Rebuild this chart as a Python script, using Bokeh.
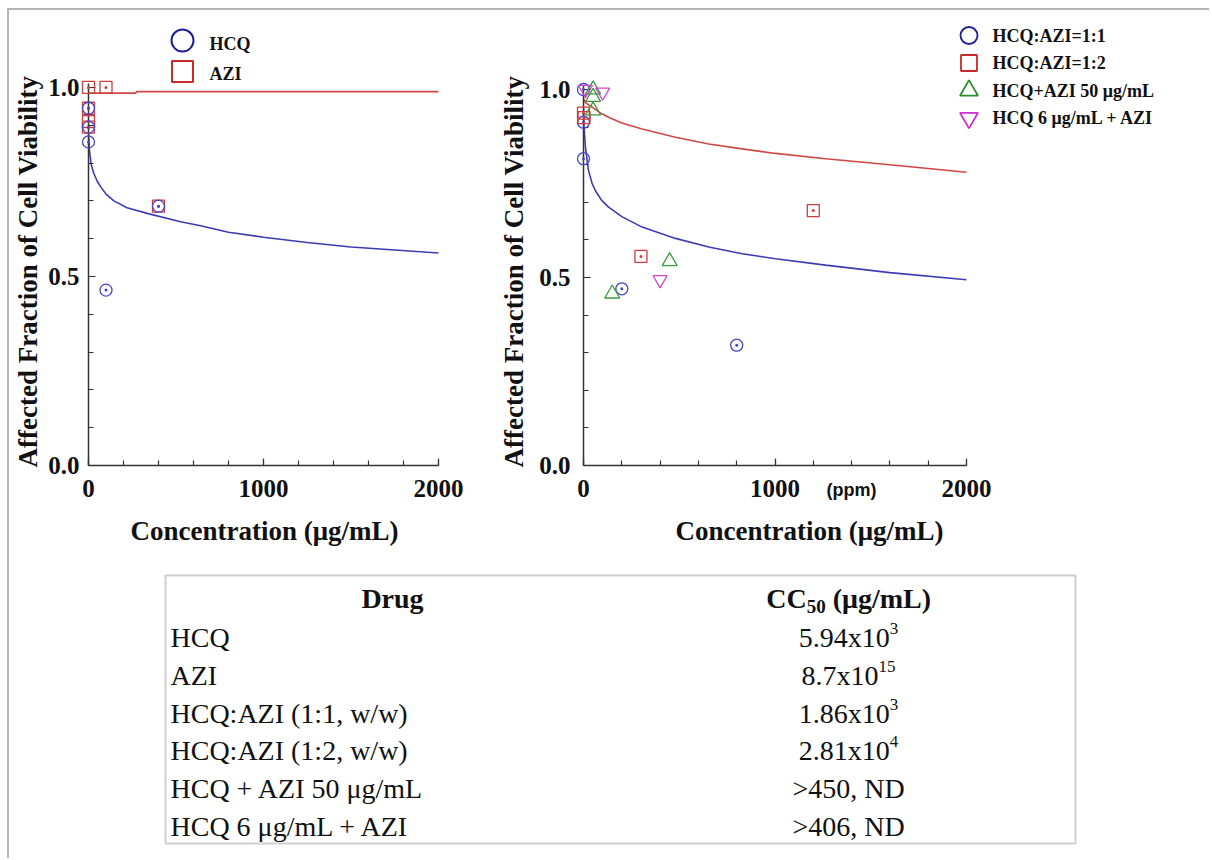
from bokeh.plotting import figure
from bokeh.models import Range1d, FixedTicker, NumeralTickFormatter
from bokeh.layouts import row, column
from bokeh.embed import file_html
from bokeh.resources import INLINE
from bokeh.core.properties import value

SERIF = "Liberation Serif"
SANS = "Liberation Sans"
NAN = float("nan")

# ---------------- data: left panel (single drugs) ----------------
hcq_conc = [0, 0, 0, 100, 400]
hcq_fa = [0.945, 0.895, 0.856, 0.464, 0.686]
azi_conc = [0, 0, 0, 0, 100, 400]
azi_fa = [1.0, 0.945, 0.91, 0.895, 1.0, 0.686]
hcq_fit_conc = [0, 2, 5, 15, 30, 50, 70, 100, 145, 220, 335, 526, 640, 800, 1000, 1250, 1500, 1750, 2000]
hcq_fit_fa = [0.88, 0.86, 0.835, 0.797, 0.773, 0.752, 0.737, 0.718, 0.70, 0.682, 0.667, 0.645, 0.634,
              0.617, 0.604, 0.590, 0.578, 0.570, 0.562]
azi_fit_conc = [0, 270, 275, 2000]
azi_fit_fa = [0.985, 0.985, 0.989, 0.989]
left_legend = ["HCQ", "AZI"]

# ---------------- data: right panel (combinations) ----------------
r11_conc = [0, 0, 0, 200, 800]
r11_fa = [1.0, 0.913, 0.816, 0.47, 0.32]
r12_conc = [0, 3, 300, 1200]
r12_fa = [0.937, 0.925, 0.556, 0.678]
azi50_conc = [50, 50, 50, 150, 450]
azi50_fa = [1.0, 0.98, 0.944, 0.457, 0.543]
hcq6_conc = [10, 100, 400]
hcq6_fa = [1.0, 0.993, 0.494]
r11_fit_conc = [0, 2, 10, 26, 45, 63, 95, 131, 200, 306, 480, 654, 829, 1003, 1264, 1600, 2000]
r11_fit_fa = [0.95, 0.905, 0.847, 0.785, 0.75, 0.73, 0.705, 0.687, 0.662, 0.634, 0.604, 0.581,
              0.563, 0.55, 0.533, 0.513, 0.494]
r12_fit_conc = [0, 10, 45, 90, 131, 200, 306, 480, 654, 829, 1003, 1264, 1600, 2000]
r12_fit_fa = [0.975, 0.965, 0.953, 0.937, 0.926, 0.911, 0.895, 0.873, 0.855, 0.842, 0.83, 0.816,
              0.80, 0.78]
right_legend = ["HCQ:AZI=1:1", "HCQ:AZI=1:2", "HCQ+AZI 50 μg/mL", "HCQ 6 μg/mL + AZI"]

# ---------------- axis ticks and titles ----------------
x_major = [0, 1000, 2000]
x_minor = [0, 200, 400, 600, 800, 1000, 1200, 1400, 1600, 1800, 2000]
y_major = [0.0, 0.5, 1.0]
y_minor = [0.0, 0.1, 0.2, 0.3, 0.4, 0.5, 0.6, 0.7, 0.8, 0.9, 1.0]
x_title = "Concentration (μg/mL)"
y_title = "Affected Fraction of Cell Viability"
unit_note = "(ppm)"

# ---------------- table ----------------
table_header = ["Drug", "CC", "50", "(μg/mL)"]
drugs = ["HCQ", "AZI", "HCQ:AZI (1:1, w/w)", "HCQ:AZI (1:2, w/w)", "HCQ + AZI 50 μg/mL", "HCQ 6 μg/mL  + AZI"]
cc50_base = ["5.94x10", "8.7x10", "1.86x10", "2.81x10", ">450, ND", ">406, ND"]
cc50_exp = ["3", "15", "3", "4", "", ""]

BLUE_L, RED_L = "#3c3cb4", "#d24646"
BLUE_M, RED_M, GREEN_M, MAG_M = "#4646c8", "#d03c3c", "#3c9a3c", "#d244d2"
BLUE_K, RED_K, GREEN_K, MAG_K = "#1e1e9a", "#c82a2a", "#2e8c2e", "#d02ed0"
AX = "#333333"
TXT = "#111111"

ROW_H = 560
TOP = 67


def make_panel(width, left, right, frame_h, xs, ys, y_lab_standoff, y_axlab_standoff, xlabel):
    frame_w = width - left - right
    p = figure(width=width, height=ROW_H, x_range=Range1d(0, frame_w / xs),
               y_range=Range1d(0, frame_h / ys),
               output_backend="svg", toolbar_location=None, title=None,
               min_border_left=left, min_border_right=right, min_border_top=TOP,
               min_border_bottom=ROW_H - TOP - frame_h)
    p.grid.visible = False
    p.outline_line_color = None
    p.background_fill_color = None
    p.border_fill_color = None
    xa, ya = p.xaxis[0], p.yaxis[0]
    xa.ticker = FixedTicker(ticks=x_major, minor_ticks=x_minor)
    ya.ticker = FixedTicker(ticks=y_major, minor_ticks=y_minor)
    xa.formatter = NumeralTickFormatter(format="0")
    ya.formatter = NumeralTickFormatter(format="0.0")
    xa.bounds = (0, 2000)
    ya.bounds = (0, 1.01)
    for ax in (xa, ya):
        ax.axis_line_color = AX
        ax.axis_line_width = 1.5
        ax.major_tick_in = 7
        ax.major_tick_out = 0
        ax.minor_tick_in = 5
        ax.minor_tick_out = 0
        ax.major_tick_line_color = AX
        ax.minor_tick_line_color = AX
        ax.major_tick_line_width = 1.2
        ax.minor_tick_line_width = 1.2
        ax.major_label_text_font = SERIF
        ax.major_label_text_font_style = "bold"
        ax.major_label_text_font_size = "25px"
        ax.major_label_text_color = TXT
        ax.axis_label_text_font = SERIF
        ax.axis_label_text_font_style = "bold"
        ax.axis_label_text_font_size = "27px"
        ax.axis_label_text_color = TXT
    xa.major_label_standoff = 14
    xa.axis_label_standoff = 16
    ya.major_label_standoff = y_lab_standoff
    ya.axis_label_standoff = y_axlab_standoff
    xa.axis_label = xlabel
    ya.axis_label = y_title
    return p


# ---------------- left figure ----------------
# x=0 at canvas 79 (0.175 px per unit); y=0 at canvas 456 (379 px per unit)
P1_XS, P1_YS = 0.175, 379.0
p1 = make_panel(486, 79, 55, 389, P1_XS, P1_YS, 9, 2, x_title)
p1.line(hcq_fit_conc, hcq_fit_fa, line_color=BLUE_L, line_width=1.6)
p1.line(azi_fit_conc, azi_fit_fa, line_color=RED_L, line_width=1.6)
p1.scatter(azi_conc, azi_fa, marker="square_dot", size=12, line_color=RED_M, fill_color=None,
           line_width=1.3, level="overlay")
p1.scatter(hcq_conc, hcq_fa, marker="circle_dot", size=12, line_color=BLUE_M, fill_color=None,
           line_width=1.3, level="overlay")

# legend keys drawn above the frame (pixel offsets from the axes origin -> data units);
# the trailing NaN entry only widens the renderer's visibility margin
l1_mx = 94 / P1_XS
l1_tx = 121 / P1_XS
l1_my = [426 / P1_YS, 395 / P1_YS]
l1_ty = [423 / P1_YS, 393 / P1_YS]
p1.scatter(x=[l1_mx, l1_mx, NAN], y=l1_my + [NAN], marker=["circle", "square", "circle"],
           size=[22, 21, 200], line_color=[BLUE_K, RED_K, BLUE_K], fill_color=None,
           line_width=2, level="overlay")
p1.text(x=[l1_tx] * 2, y=l1_ty, text=left_legend, text_align="left", text_baseline="middle",
        text_font=value(SERIF), text_font_style="bold", text_font_size="18px", text_color=TXT,
        level="overlay")

# ---------------- right figure ----------------
# x=0 at canvas 88 (0.1915 px per unit); y=0 at canvas 455 (376 px per unit)
P2_XS, P2_YS = 383 / 2000, 376.0
p2 = make_panel(714, 88, 241, 388, P2_XS, P2_YS, 13, 7, "")
p2.line(r11_fit_conc, r11_fit_fa, line_color=BLUE_L, line_width=1.6)
p2.line(r12_fit_conc, r12_fit_fa, line_color=RED_L, line_width=1.6)
p2.scatter(r11_conc, r11_fa, marker="circle_dot", size=12, line_color=BLUE_M, fill_color=None,
           line_width=1.3, level="overlay")
p2.scatter(r12_conc, r12_fa, marker="square_dot", size=12, line_color=RED_M, fill_color=None,
           line_width=1.3, level="overlay")
p2.scatter(azi50_conc, azi50_fa, marker="triangle", size=15, line_color=GREEN_M, fill_color=None,
           line_width=1.3, level="overlay")
p2.scatter(hcq6_conc, hcq6_fa, marker="inverted_triangle", size=14, line_color=MAG_M, fill_color=None,
           line_width=1.3, level="overlay")

l2_mx = 385.5 / P2_XS
l2_tx = 409 / P2_XS
l2_y = [(430 - 27.5 * i) / P2_YS for i in range(4)]
p2.scatter(x=[l2_mx] * 4 + [NAN], y=l2_y + [NAN],
           marker=["circle", "square", "triangle", "inverted_triangle", "circle"],
           size=[17, 16, 18, 18, 200], line_color=[BLUE_K, RED_K, GREEN_K, MAG_K, BLUE_K],
           fill_color=None, line_width=1.8, level="overlay")
p2.text(x=[l2_tx] * 4, y=l2_y, text=right_legend, text_align="left", text_baseline="middle",
        text_font=value(SERIF), text_font_style="bold", text_font_size="18px", text_color=TXT,
        level="overlay")

# x title and unit note below the right axis (text glyphs are not clipped at overlay level)
p2.text(x=[226 / P2_XS], y=[-65 / P2_YS], text=[x_title], text_align="center",
        text_baseline="middle", text_font=value(SERIF), text_font_style="bold",
        text_font_size="27px", text_color=TXT, level="overlay")
p2.text(x=[268 / P2_XS], y=[-24 / P2_YS], text=[unit_note], text_align="center",
        text_baseline="middle", text_font=value(SANS), text_font_style="bold",
        text_font_size="18px", text_color=TXT, level="overlay")

# ---------------- table figure ----------------
TW, TH = 1200, 288
p3 = figure(width=TW, height=TH, x_range=Range1d(0, TW), y_range=Range1d(TH, 0),
            output_backend="svg", toolbar_location=None, title=None,
            x_axis_type=None, y_axis_type=None, min_border=0)
p3.grid.visible = False
p3.outline_line_color = None
p3.background_fill_color = None
p3.border_fill_color = None

p3.quad(left=[156], right=[1066], top=[5], bottom=[273], fill_color=None,
        line_color="#cfcfcf", line_width=2)

FS = 28
EXP_FS = 17
SUB_FS = 19
W_REG = {"0": .5, "1": .5, "2": .5, "3": .5, "4": .5, "5": .5, "6": .5, "7": .5, "8": .5, "9": .5,
         ".": .25, "x": .5, ",": .25, " ": .25, ">": .564, "N": .722, "D": .722}
W_BOLD = {"C": .722, " ": .25, "(": .333, ")": .333, "μ": .556, "g": .5, "/": .278, "m": .833,
          "L": .667, "5": .5, "0": .5}


def tw(s, table, size):
    return sum(table.get(c, .5) for c in s) * size


header_y = 28
row_y = [67 + 37.8 * i for i in range(len(drugs))]
val_cx = 839

p3.text(x=[383], y=[header_y], text=[table_header[0]], text_align="center", text_baseline="middle",
        text_font=value(SERIF), text_font_style="bold", text_font_size=f"{FS}px", text_color=TXT)
w_cc = tw(table_header[1], W_BOLD, FS)
w_sub = tw(table_header[2], W_BOLD, SUB_FS)
w_sp = 0.25 * FS
w_rest = tw(table_header[3], W_BOLD, FS)
x0 = val_cx - (w_cc + w_sub + w_sp + w_rest) / 2
p3.text(x=[x0], y=[header_y], text=[table_header[1]], text_align="left", text_baseline="middle",
        text_font=value(SERIF), text_font_style="bold", text_font_size=f"{FS}px", text_color=TXT)
p3.text(x=[x0 + w_cc], y=[header_y + 8], text=[table_header[2]], text_align="left", text_baseline="middle",
        text_font=value(SERIF), text_font_style="bold", text_font_size=f"{SUB_FS}px", text_color=TXT)
p3.text(x=[x0 + w_cc + w_sub + w_sp], y=[header_y], text=[table_header[3]], text_align="left",
        text_baseline="middle", text_font=value(SERIF), text_font_style="bold",
        text_font_size=f"{FS}px", text_color=TXT)

p3.text(x=[161] * len(drugs), y=row_y, text=drugs, text_align="left", text_baseline="middle",
        text_font=value(SERIF), text_font_size=f"{FS}px", text_color=TXT)

base_x, exp_x, exp_y, exp_t = [], [], [], []
for b, e, y in zip(cc50_base, cc50_exp, row_y):
    wb = tw(b, W_REG, FS)
    we = tw(e, W_REG, EXP_FS)
    split = val_cx + (wb - we) / 2
    base_x.append(split)
    if e:
        exp_x.append(split)
        exp_y.append(y - 9)
        exp_t.append(e)
p3.text(x=base_x, y=row_y, text=cc50_base, text_align="right", text_baseline="middle",
        text_font=value(SERIF), text_font_size=f"{FS}px", text_color=TXT)
p3.text(x=exp_x, y=exp_y, text=exp_t, text_align="left", text_baseline="middle",
        text_font=value(SERIF), text_font_size=f"{EXP_FS}px", text_color=TXT)

layout = column(row(p1, p2), p3,
                styles={"margin-left": "7px", "margin-top": "8px",
                        "border-top": "2px solid #b4b4b4", "border-left": "2px solid #b4b4b4"})

with open("out.html", "w") as f:
    f.write(file_html(layout, INLINE))
